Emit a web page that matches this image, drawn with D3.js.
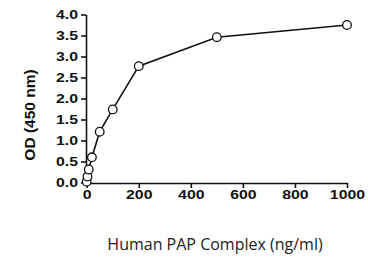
<!DOCTYPE html>
<html>
<head>
<meta charset="utf-8">
<script src="https://cdn.jsdelivr.net/npm/d3@7"></script>
<style>
  body { margin: 0; background: #fff; }
  svg { display: block; }
</style>
</head>
<body>
<svg id="chart" width="368" height="262"></svg>
<script>
// concentration (ng/ml) and measured OD
const conc = [0, 3, 8, 20, 50, 100, 200, 500, 1000];
const od = [0.02, 0.14, 0.31, 0.6, 1.21, 1.74, 2.77, 3.46, 3.75];
const xTicks = [0, 200, 400, 600, 800, 1000];
const yTicks = [0, 0.5, 1, 1.5, 2, 2.5, 3, 3.5, 4];

const svg = d3.select('#chart');

const x = d3.scaleLinear().domain([0, 1000]).range([86.7, 347]);
const y = d3.scaleLinear().domain([0, 4]).range([182.5, 14.5]);

function styleTicks(g) {
    g.attr('font-family', '"Liberation Sans", Arial, sans-serif')
     .attr('font-size', 13)
     .attr('font-weight', 'bold');
    g.select('.domain').attr('stroke', '#111').attr('stroke-width', 1.6);
    g.selectAll('.tick line').attr('stroke', '#111').attr('stroke-width', 1.6);
    g.selectAll('.tick text').attr('fill', '#111');
}

// x axis
const xAxis = svg.append('g')
    .attr('transform', 'translate(0,183)')
    .call(d3.axisBottom(x).tickValues(xTicks).tickFormat(d3.format('d')).tickSize(5).tickPadding(2).tickSizeOuter(0));
styleTicks(xAxis);
xAxis.selectAll('.tick text').attr('transform', 'scale(1.22,1)');

// y axis
const yAxis = svg.append('g')
    .attr('transform', 'translate(86,0)')
    .call(d3.axisLeft(y).tickValues(yTicks).tickFormat(d3.format('.1f')).tickSize(5).tickPadding(2).tickSizeOuter(0));
styleTicks(yAxis);
yAxis.selectAll('.tick text').attr('transform', 'scale(1.22,1)').attr('x', -6.5);

// curve
const line = d3.line()
    .x((d, i) => x(conc[i]))
    .y(d => y(d));

svg.append('path')
    .datum(od)
    .attr('d', line)
    .attr('fill', 'none')
    .attr('stroke', '#111')
    .attr('stroke-width', 1.6);

svg.selectAll('circle.pt')
    .data(od)
    .join('circle')
    .attr('class', 'pt')
    .attr('cx', (d, i) => x(conc[i]))
    .attr('cy', d => y(d))
    .attr('r', 4.3)
    .attr('fill', '#fff')
    .attr('stroke', '#111')
    .attr('stroke-width', 1.3);

// axis titles
svg.append('text')
    .attr('transform', 'translate(35,115) rotate(-90)')
    .attr('text-anchor', 'middle')
    .style('font-family', '"Liberation Sans", Arial, sans-serif')
    .style('font-weight', 'bold')
    .style('font-size', '15.5px')
    .attr('fill', '#111')
    .text('OD (450 nm)');

svg.append('text')
    .attr('x', 215)
    .attr('y', 250)
    .attr('text-anchor', 'middle')
    .style('font-family', '"Open Sans", sans-serif')
    .style('font-size', '16px')
    .attr('fill', '#222')
    .text('Human PAP Complex (ng/ml)');
</script>
</body>
</html>
